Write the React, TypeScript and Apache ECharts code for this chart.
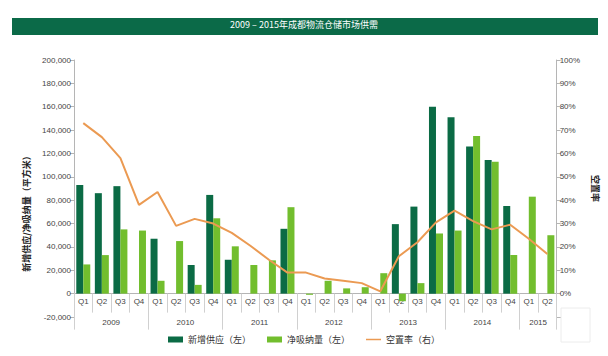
import React, { useEffect, useRef } from "react";
import * as echarts from "echarts";

const quarters = [
  "Q1", "Q2", "Q3", "Q4", "Q1", "Q2", "Q3", "Q4", "Q1", "Q2", "Q3", "Q4",
  "Q1", "Q2", "Q3", "Q4", "Q1", "Q2", "Q3", "Q4", "Q1", "Q2", "Q3", "Q4",
  "Q1", "Q2",
];
const years = ["2009", "2010", "2011", "2012", "2013", "2014", "2015"];
const quartersPerYear = [4, 4, 4, 4, 4, 4, 2];

const newSupply = [
  93000, 86000, 92000, 0, 47000, 0, 24500, 84500, 29000, 0, 0, 55500,
  0, 0, 0, 0, 0, 59500, 74500, 160000, 151000, 126000, 114500, 75000,
  0, 0,
];
const netAbsorption = [
  25000, 33000, 55000, 54000, 11000, 45000, 7500, 64500, 40500, 24500, 28500, 74000,
  -1000, 11000, 4500, 5500, 17500, -6500, 9000, 51500, 54000, 135000, 113000, 33000,
  83000, 50000,
];
const vacancy = [
  73, 67, 58, 38, 43.5, 29, 32, 30, 26, 20.5, 14.5, 9,
  9, 6.5, 5.5, 4.5, 1, 16, 22, 30.5, 35.5, 31, 27.5, 29.5,
  23.5, 17,
];

const leftMin = -20000;
const leftMax = 200000;
const rightMin = -10;
const rightMax = 100;

const seriesNames = ["新增供应（左）", "净吸纳量（左）", "空置率（右）"];
const titleText = "2009 – 2015年成都物流仓储市场供需";
const leftAxisName = "新增供应/净吸纳量（平方米）";
const rightAxisName = "空置率";

const DARK = "#0b6b45";
const LIGHT = "#72be2e";
const ORANGE = "#eb9a52";
const AXIS = "#b5b5b5";
const SEP = "#d0d0d0";
const FONT = "'Liberation Sans Narrow', 'Liberation Sans', 'Noto Sans CJK SC', sans-serif";
const CJK = "'Noto Sans CJK SC', sans-serif";

const GRID_TOP = 60;
const GRID_BOTTOM = 39;
const HEIGHT = 356;

export default function App() {
  const ref = useRef<HTMLDivElement>(null);
  useEffect(() => {
    if (!ref.current) return;
    const chart = echarts.init(ref.current, undefined, { renderer: "svg" });
    const total = quarters.length;
    const yearLabelMap: Record<number, string> = {};
    let acc = 0;
    quartersPerYear.forEach((n, i) => {
      yearLabelMap[acc + n / 2] = years[i];
      acc += n;
    });
    const gridH = HEIGHT - GRID_TOP - GRID_BOTTOM;
    const zeroOffset = -(gridH * (0 - leftMin)) / (leftMax - leftMin);

    chart.setOption({
      animation: false,
      textStyle: { fontFamily: FONT },
      graphic: [
        {
          type: "rect",
          shape: { x: 12, y: 18, width: 586, height: 17 },
          style: { fill: "#0b6a48" },
          z: 0,
        },
        {
          type: "rect",
          shape: { x: 561, y: 308, width: 29, height: 34 },
          style: { fill: "none", stroke: "#ececec", lineWidth: 1 },
        },
      ],
      title: {
        text: titleText,
        left: "center",
        top: 20,
        padding: 0,
        textStyle: { color: "#ffffff", fontSize: 9, fontWeight: "normal", fontFamily: CJK },
        z: 10,
      },
      legend: {
        bottom: 7,
        left: "center",
        itemWidth: 15,
        itemHeight: 6,
        itemGap: 16,
        textStyle: { fontSize: 9, color: "#333", fontFamily: CJK },
        data: [
          { name: seriesNames[0], icon: "rect" },
          { name: seriesNames[1], icon: "rect" },
          { name: seriesNames[2], icon: "path://M0,0 L30,0 L30,3 L0,3 Z" },
        ],
      },
      grid: { left: 74, right: 50, top: GRID_TOP, bottom: GRID_BOTTOM },
      xAxis: [
        {
          type: "category",
          position: "bottom",
          offset: zeroOffset,
          data: quarters,
          boundaryGap: true,
          axisLine: { onZero: false, lineStyle: { color: AXIS } },
          axisTick: { show: false },
          axisLabel: { interval: 0, fontSize: 8, color: "#444", margin: 4 },
          splitLine: { show: false },
        },
        {
          type: "value",
          position: "bottom",
          offset: zeroOffset,
          min: 0,
          max: total,
          interval: 1,
          axisLine: { show: false, onZero: false },
          axisTick: { show: true, length: 19, lineStyle: { color: SEP } },
          splitLine: { show: false },
          axisLabel: {
            fontSize: 8,
            color: "#444",
            margin: 25,
            showMinLabel: true,
            showMaxLabel: true,
            formatter: (v: number) => yearLabelMap[v] ?? "",
          },
        },
        {
          type: "value",
          position: "bottom",
          offset: zeroOffset,
          min: 0,
          max: total,
          interval: 4,
          axisLine: { show: false, onZero: false },
          axisTick: { show: true, length: 36, lineStyle: { color: SEP } },
          axisLabel: { show: false },
          splitLine: { show: false },
        },
      ],
      yAxis: [
        {
          type: "value",
          min: leftMin,
          max: leftMax,
          interval: 20000,
          position: "left",
          name: leftAxisName,
          nameLocation: "middle",
          nameGap: 40,
          nameRotate: 90,
          nameTextStyle: {
            fontSize: 9,
            fontWeight: "bold",
            color: "#222",
            fontFamily: CJK,
            padding: [0, 46, 0, 0],
          },
          axisLine: { show: true, onZero: false, lineStyle: { color: AXIS } },
          axisTick: { show: true, length: 4, lineStyle: { color: AXIS } },
          axisLabel: {
            fontSize: 8,
            color: "#444",
            margin: 3,
            formatter: (v: number) => v.toLocaleString("en-US"),
          },
          splitLine: { show: false },
        },
        {
          type: "value",
          min: rightMin,
          max: rightMax,
          interval: 10,
          position: "right",
          name: rightAxisName,
          nameLocation: "middle",
          nameGap: 28,
          nameRotate: -90,
          nameTextStyle: { fontSize: 9, fontWeight: "bold", color: "#222", fontFamily: CJK },
          axisLine: { show: true, onZero: false, lineStyle: { color: AXIS } },
          axisTick: { show: true, length: 4, lineStyle: { color: AXIS } },
          axisLabel: {
            fontSize: 8,
            color: "#444",
            margin: 3,
            formatter: (v: number) => (v < 0 ? "" : v + "%"),
          },
          splitLine: { show: false },
        },
      ],
      series: [
        {
          name: seriesNames[0],
          type: "bar",
          xAxisIndex: 0,
          yAxisIndex: 0,
          data: newSupply,
          barWidth: 7,
          barGap: "0%",
          itemStyle: { color: DARK },
        },
        {
          name: seriesNames[1],
          type: "bar",
          xAxisIndex: 0,
          yAxisIndex: 0,
          data: netAbsorption,
          barWidth: 7,
          barGap: "0%",
          itemStyle: { color: LIGHT },
        },
        {
          name: seriesNames[2],
          type: "line",
          xAxisIndex: 0,
          yAxisIndex: 1,
          data: vacancy,
          symbol: "none",
          lineStyle: { color: ORANGE, width: 2 },
          itemStyle: { color: ORANGE },
          z: 5,
        },
      ],
    });
    return () => chart.dispose();
  }, []);
  return (
    <div
      ref={ref}
      style={{ position: "fixed", left: 0, top: 0, width: 608, height: 356, background: "#fff" }}
    />
  );
}
